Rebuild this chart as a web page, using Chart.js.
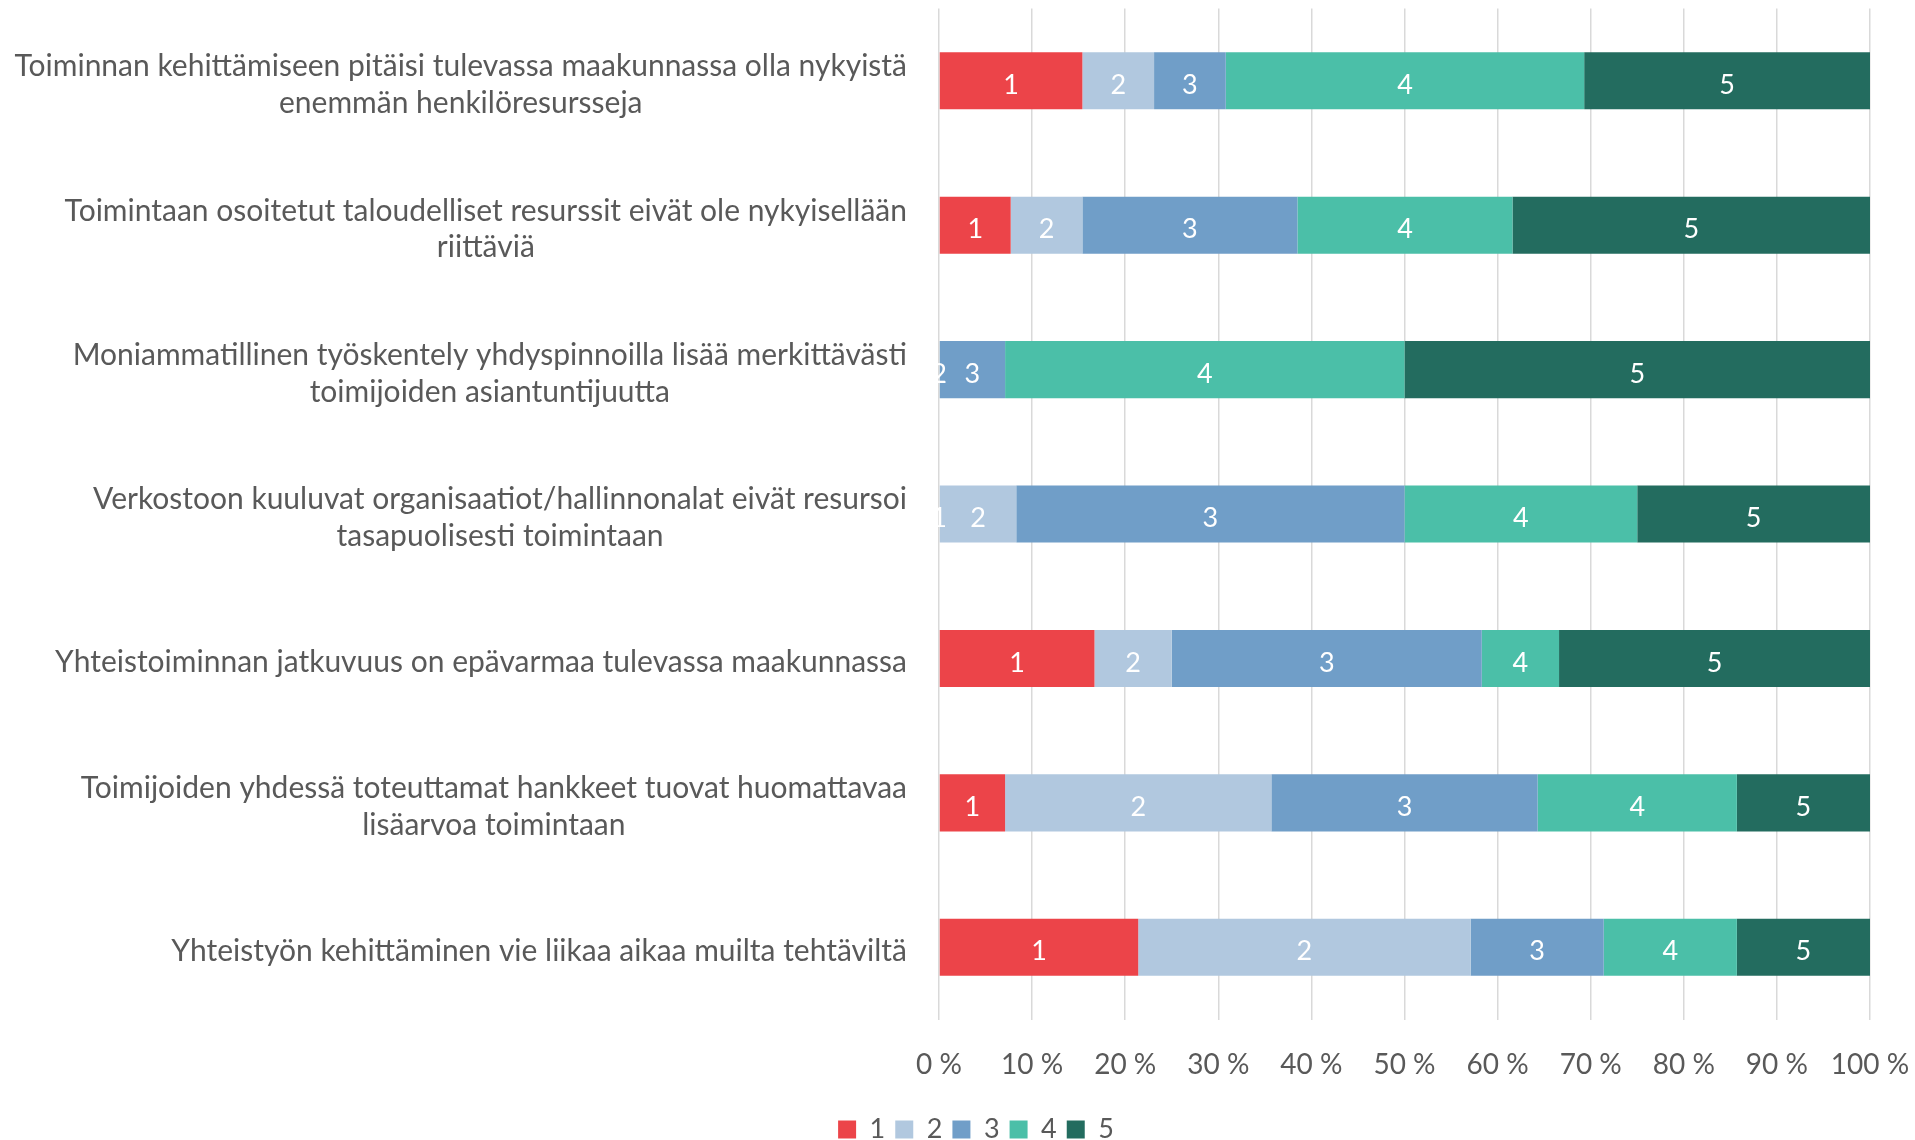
<!DOCTYPE html>
<html>
<head>
<meta charset="utf-8">
<script src="https://cdn.jsdelivr.net/npm/chart.js@4.4.1/dist/chart.umd.min.js"></script>
<style>
  html, body { margin: 0; padding: 0; background: #ffffff; }
  canvas { display: block; }
</style>
</head>
<body>
<canvas id="c" width="1915" height="1140"></canvas>
<script>
// ---- Data (percent of respondents per answer 1..5) ----
const categories = [
  ["Toiminnan kehittämiseen pitäisi tulevassa maakunnassa olla nykyistä", "enemmän henkilöresursseja"],
  ["Toimintaan osoitetut taloudelliset resurssit eivät ole nykyisellään", "riittäviä"],
  ["Moniammatillinen työskentely yhdyspinnoilla lisää merkittävästi", "toimijoiden asiantuntijuutta"],
  ["Verkostoon kuuluvat organisaatiot/hallinnonalat eivät resursoi", "tasapuolisesti toimintaan"],
  ["Yhteistoiminnan jatkuvuus on epävarmaa tulevassa maakunnassa"],
  ["Toimijoiden yhdessä toteuttamat hankkeet tuovat huomattavaa", "lisäarvoa toimintaan"],
  ["Yhteistyön kehittäminen vie liikaa aikaa muilta tehtäviltä"]
];
const seriesNames = ["1", "2", "3", "4", "5"];
const answer1 = [15.4, 7.7, 0, 0, 16.7, 7.1, 21.4];
const answer2 = [7.7, 7.7, 0, 8.3, 8.3, 28.6, 35.7];
const answer3 = [7.7, 23.1, 7.1, 41.7, 33.3, 28.6, 14.3];
const answer4 = [38.5, 23.1, 42.9, 25.0, 8.3, 21.4, 14.3];
const answer5 = [30.7, 38.4, 50.0, 25.0, 33.4, 14.3, 14.3];
const xTickValues = [0, 10, 20, 30, 40, 50, 60, 70, 80, 90, 100];

const colors = ["#EC4449", "#B1C8DF", "#709EC8", "#4BBFA8", "#236C5F"];
const seriesValues = [answer1, answer2, answer3, answer4, answer5];

const FONT = "Lato, 'Open Sans', sans-serif";
const TEXT = "#595959";

const segmentLabels = {
  id: "segmentLabels",
  afterDatasetsDraw(chart) {
    const ctx = chart.ctx;
    ctx.save();
    ctx.font = "27px " + FONT;
    ctx.fillStyle = "#ffffff";
    ctx.textAlign = "center";
    ctx.textBaseline = "middle";
    chart.data.datasets.forEach((ds, di) => {
      const meta = chart.getDatasetMeta(di);
      meta.data.forEach((el, i) => {
        const v = ds.data[i];
        if (v === 0) {
          // zero segment: label sits at bar start, hidden if a later zero label sits on it
          const next = chart.data.datasets[di + 1];
          if (next && next.data[i] === 0) return;
        }
        const cx = (el.x + el.base) / 2;
        ctx.fillText(ds.label, cx, el.y + 4.5);
      });
    });
    ctx.restore();
  }
};

const categoryLabels = {
  id: "categoryLabels",
  afterDraw(chart) {
    const ctx = chart.ctx;
    const yScale = chart.scales.y;
    const right = chart.chartArea.left - 32;
    const lh = 36.6;
    ctx.save();
    ctx.font = "30px " + FONT;
    ctx.fillStyle = TEXT;
    ctx.textAlign = "center";
    ctx.textBaseline = "middle";
    chart.data.labels.forEach((lab, i) => {
      const lines = Array.isArray(lab) ? lab : [lab];
      const w = Math.max(...lines.map(l => ctx.measureText(l).width));
      const cx = right - w / 2;
      const y = yScale.getPixelForValue(i);
      lines.forEach((l, j) => {
        ctx.fillText(l, cx, y + 4 + (j - (lines.length - 1) / 2) * lh);
      });
    });
    ctx.restore();
  }
};

new Chart(document.getElementById("c"), {
  type: "bar",
  data: {
    labels: categories,
    datasets: seriesNames.map((n, k) => ({
      label: n,
      data: seriesValues[k],
      backgroundColor: colors[k],
      borderWidth: 0,
      barPercentage: 0.395,
      categoryPercentage: 1.0
    }))
  },
  options: {
    indexAxis: "y",
    responsive: false,
    animation: false,
    layout: { padding: { left: 82, right: 45, top: 8.6, bottom: -13 } },
    plugins: {
      legend: {
        position: "bottom",
        labels: {
          font: { family: FONT, size: 27 },
          color: TEXT,
          boxWidth: 18,
          boxHeight: 18,
          padding: 10
        }
      },
      tooltip: { enabled: false }
    },
    scales: {
      x: {
        stacked: true,
        min: 0,
        max: 100,
        afterBuildTicks(scale) { scale.ticks = xTickValues.map(v => ({ value: v })); },
        ticks: {
          color: TEXT,
          font: { family: FONT, size: 28 },
          padding: 29,
          callback: v => v + " %"
        },
        grid: { color: "#D9D9D9", lineWidth: 1.5, drawTicks: false },
        border: { display: false },
        afterFit(scale) {
          scale.height = 86.5;
          scale.paddingLeft = 0;
          scale.paddingRight = 0;
        }
      },
      y: {
        stacked: true,
        ticks: { display: false },
        grid: { display: false },
        border: { display: false },
        afterFit(scale) { scale.width = 857; }
      }
    }
  },
  plugins: [segmentLabels, categoryLabels]
});
</script>
</body>
</html>
